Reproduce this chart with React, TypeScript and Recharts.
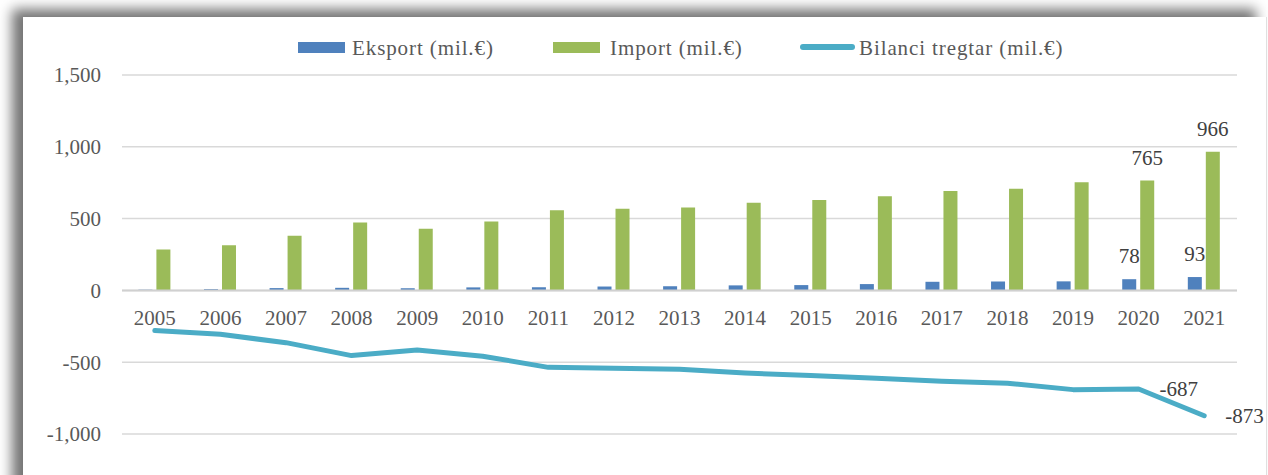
import React from 'react';
import {
  ComposedChart,
  Bar,
  Line,
  YAxis,
  XAxis,
  CartesianGrid,
  Legend,
  LabelList,
  ReferenceLine,
  ReferenceDot,
} from 'recharts';

const years = ['2005', '2006', '2007', '2008', '2009', '2010', '2011', '2012', '2013', '2014', '2015', '2016', '2017', '2018', '2019', '2020', '2021'];
const exportValues = [5, 9, 16, 18, 15, 21, 22, 27, 29, 35, 37, 44, 60, 62, 63, 78, 93];
const importValues = [285, 315, 380, 472, 430, 479, 558, 569, 578, 611, 630, 655, 692, 708, 754, 765, 966];
const balanceValues = [-280, -306, -364, -454, -415, -458, -536, -542, -549, -576, -593, -611, -632, -646, -691, -687, -873];
const yTicks = [-1000, -500, 0, 500, 1000, 1500];
const labeledYears = ['2020', '2021'];

const seriesNames = {
  eksport: 'Eksport (mil.€)',
  import: 'Import (mil.€)',
  bilanci: 'Bilanci tregtar (mil.€)',
};

const COLORS = {
  eksport: '#4F81BD',
  import: '#9BBB59',
  bilanci: '#4BACC6',
};

const FONT = '"Liberation Serif", "Times New Roman", serif';
const TEXT = '#595959';
const LABEL = '#404040';

const data = years.map((y, i) => ({
  year: y,
  eksport: exportValues[i],
  import: importValues[i],
  bilanci: balanceValues[i],
}));

const fmt = (v: number) => v.toLocaleString('en-US');

const legendItems = [
  { key: 'eksport', type: 'rect', markerLeft: 298, textLeft: 352 },
  { key: 'import', type: 'rect', markerLeft: 553, textLeft: 610 },
  { key: 'bilanci', type: 'line', markerLeft: 800, textLeft: 859 },
];

const LegendContent = () => (
  <div style={{ position: 'relative', width: 1268, height: 24, fontFamily: FONT, fontSize: 21, color: TEXT }}>
    {legendItems.map((it) => (
      <React.Fragment key={it.key}>
        {it.type === 'rect' ? (
          <div style={{ position: 'absolute', left: it.markerLeft, top: 6, width: 47, height: 11, background: (COLORS as any)[it.key] }} />
        ) : (
          <div style={{ position: 'absolute', left: it.markerLeft, top: 8, width: 55, height: 6, borderRadius: 3, background: (COLORS as any)[it.key] }} />
        )}
        <div style={{ position: 'absolute', left: it.textLeft, top: 0, lineHeight: '24px', whiteSpace: 'nowrap', letterSpacing: '0.9px' }}>
          {(seriesNames as any)[it.key]}
        </div>
      </React.Fragment>
    ))}
  </div>
);

const makeLabel = (pos: 'top' | 'right', offset: number) => (props: any) => {
  const { x, y, width, value, index } = props;
  if (!labeledYears.includes(years[index])) return null;
  if (pos === 'top') {
    return (
      <text x={x + width / 2} y={y - offset} textAnchor="middle" fontFamily={FONT} fontSize={21} fill={LABEL}>
        {fmt(value)}
      </text>
    );
  }
  return (
    <text x={x + offset} y={y} dy="0.35em" textAnchor="start" fontFamily={FONT} fontSize={21} fill={LABEL}>
      {fmt(value)}
    </text>
  );
};

export default function App() {
  return (
    <div style={{ position: 'absolute', left: 0, top: 0, width: 1268, height: 475, background: '#ffffff', overflow: 'hidden' }}>
      <div
        style={{
          position: 'absolute',
          left: 23,
          top: 17,
          width: 1243,
          height: 480,
          background: '#ffffff',
          borderRight: '1px solid #e0e0e0',
          boxShadow: '-11px -8px 12px rgba(0,0,0,0.55)',
        }}
      />
      <div style={{ position: 'absolute', left: 0, top: 0 }}>
        <ComposedChart
          width={1268}
          height={475}
          data={data}
          margin={{ top: 75, right: 31, bottom: 41, left: 0 }}
          barCategoryGap="25%"
          barGap={4}
        >
          <CartesianGrid vertical={false} stroke="#d9d9d9" strokeWidth={1.5} />
          <XAxis dataKey="year" hide />
          <YAxis
            width={122}
            domain={[-1000, 1500]}
            ticks={yTicks}
            allowDataOverflow
            axisLine={false}
            tickLine={false}
            tickSize={0}
            tickMargin={21}
            tickFormatter={fmt}
            tick={{ fontFamily: FONT, fontSize: 21, fill: TEXT }}
          />
          <Legend
            layout="horizontal"
            verticalAlign="middle"
            align="center"
            wrapperStyle={{ top: 36, left: 0, width: 1268 }}
            content={LegendContent}
          />
          <ReferenceLine y={0} stroke="#d0d0d0" strokeWidth={2} />
          <Bar dataKey="eksport" name={seriesNames.eksport} fill={COLORS.eksport} isAnimationActive={false}>
            <LabelList dataKey="eksport" content={makeLabel('top', 16)} />
          </Bar>
          <Bar dataKey="import" name={seriesNames.import} fill={COLORS.import} isAnimationActive={false}>
            <LabelList dataKey="import" content={makeLabel('top', 16)} />
          </Bar>
          <Line
            type="linear"
            dataKey="bilanci"
            name={seriesNames.bilanci}
            stroke={COLORS.bilanci}
            strokeWidth={5}
            strokeLinecap="round"
            strokeLinejoin="round"
            dot={false}
            activeDot={false}
            isAnimationActive={false}
          >
            <LabelList dataKey="bilanci" content={makeLabel('right', 21)} />
          </Line>
          {years.map((y) => (
            <ReferenceDot
              key={y}
              x={y}
              y={0}
              r={0}
              fill="none"
              stroke="none"
              label={{ value: y, position: 'bottom', offset: 20, fill: TEXT, fontSize: 21, fontFamily: FONT }}
            />
          ))}
        </ComposedChart>
      </div>
    </div>
  );
}
